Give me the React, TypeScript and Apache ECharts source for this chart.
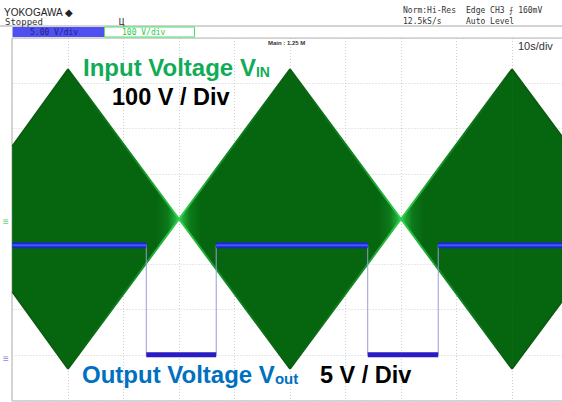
import React, { useEffect, useRef } from "react";
import * as echarts from "echarts";

const envTime = [0, 10, 30, 50, 70, 90, 99];
const envUpper = [161, 331, 0, 331, 0, 331, 182];
const envLower = [-161, -331, 0, -331, 0, -331, -182];

const outStart = [0, 36.7, 76.7, 24.1, 64];
const outEnd = [24.1, 64, 99, 36.7, 76.7];
const outLevel = [12.1, 12.1, 12.1, 0, 0];
const traceTime = [0, 24.1, 24.1, 36.7, 36.7, 64, 64, 76.7, 76.7, 99];
const traceVolt = [12.1, 12.1, 0, 0, 12.1, 12.1, 0, 0, 12.1, 12.1];

const DARK = "#066610";
const BRIGHT = "#35d455";
const FONT = "Liberation Sans, Arial, sans-serif";
const MONO = '"DejaVu Sans Mono", monospace';

function band(level: number, width: number, color: string, z: number) {
  const data: any[] = [];
  outStart.forEach((s, i) => {
    if (outLevel[i] !== level) return;
    data.push([s, level], [outEnd[i], level], [null, null]);
  });
  return {
    type: "line", yAxisIndex: 1, data, symbol: "none", connectNulls: false, z,
    lineStyle: { width, color }, silent: true,
  };
}

function small(text: string, x: number, y: number, fill = "#222", size = 8): any {
  return { type: "text", x, y, z: 20, style: { text, fill, font: `${size}px ${MONO}` } };
}

function edgeGradient() {
  const stops = envTime.map((t, i) => ({ offset: t / 99, color: envUpper[i] === 0 ? "#2fd24c" : "#0a5c10" }));
  const extra: { offset: number; color: string }[] = [];
  envTime.forEach((t, i) => {
    if (envUpper[i] === 0) {
      extra.push({ offset: (t - 8) / 99, color: "#0f8a22" }, { offset: (t + 8) / 99, color: "#0f8a22" });
    }
  });
  return new echarts.graphic.LinearGradient(0, 0, 1, 0, [...stops, ...extra].sort((a, b) => a.offset - b.offset));
}

export default function App() {
  const ref = useRef<HTMLDivElement>(null);
  useEffect(() => {
    document.body.style.margin = "0";
    const chart = echarts.init(ref.current!, null, { renderer: "svg" });
    const grid = { color: "#d0d0d0", type: [1, 2] as number[], width: 1 };
    chart.setOption({
      animation: false,
      backgroundColor: "#ffffff",
      grid: { left: 12.5, top: 38, width: 549.5, height: 362, show: false },
      xAxis: {
        type: "value", min: 0, max: 99, interval: 10,
        axisLine: { show: false }, axisTick: { show: false }, axisLabel: { show: false },
        splitLine: { show: true, lineStyle: grid },
      },
      yAxis: [
        {
          type: "value", min: -400, max: 400, interval: 100,
          axisLine: { show: false }, axisTick: { show: false }, axisLabel: { show: false },
          splitLine: { show: true, lineStyle: grid },
        },
        {
          type: "value", min: -5, max: 35, interval: 5,
          axisLine: { show: false }, axisTick: { show: false }, axisLabel: { show: false },
          splitLine: { show: false },
        },
      ],
      series: [
        {
          type: "custom", coordinateSystem: "cartesian2d", z: 3, silent: true,
          data: envTime.slice(0, -1).map((t, i) => [t, envTime[i + 1], envUpper[i], envLower[i], envUpper[i + 1], envLower[i + 1]]),
          renderItem: (_p: any, api: any) => {
            const t0 = api.value(0), t1 = api.value(1);
            const u0 = api.value(2), l0 = api.value(3), u1 = api.value(4), l1 = api.value(5);
            const pts = [api.coord([t0, u0]), api.coord([t1, u1]), api.coord([t1, l1]), api.coord([t0, l0])];
            const leftNode = u0 === 0, rightNode = u1 === 0;
            const stops = leftNode
              ? [{ offset: 0, color: BRIGHT }, { offset: 0.04, color: "#1ea83a" }, { offset: 0.1, color: "#0c7a1a" }, { offset: 0.2, color: DARK }, { offset: 1, color: DARK }]
              : rightNode
                ? [{ offset: 0, color: DARK }, { offset: 0.8, color: DARK }, { offset: 0.9, color: "#0c7a1a" }, { offset: 0.96, color: "#1ea83a" }, { offset: 1, color: BRIGHT }]
                : [{ offset: 0, color: DARK }, { offset: 1, color: DARK }];
            return {
              type: "polygon",
              shape: { points: pts },
              style: {
                fill: new echarts.graphic.LinearGradient(0, 0, 1, 0, stops),
                stroke: new echarts.graphic.LinearGradient(0, 0, 1, 0, stops),
                lineWidth: 0.8,
              },
            };
          },
        },
        {
          type: "line", data: envTime.map((t, i) => [t, envUpper[i]]), symbol: "none", z: 4, silent: true,
          lineStyle: { width: 2, color: edgeGradient() },
        },
        {
          type: "line", data: envTime.map((t, i) => [t, envLower[i]]), symbol: "none", z: 4, silent: true,
          lineStyle: { width: 2, color: edgeGradient() },
        },
        {
          type: "line", yAxisIndex: 1, data: traceTime.map((t, i) => [t, traceVolt[i]]), symbol: "none", z: 5, silent: true,
          lineStyle: { width: 1, color: "#9a9ad8" },
        },
        band(12.1, 6, "#1a2bc4", 6),
        band(12.1, 2, "#3f58ff", 7),
        band(0, 5, "#2a1cc4", 6),
      ],
      graphic: [
        { type: "line", z: 1, shape: { x1: 0, y1: 26, x2: 562, y2: 26 }, style: { stroke: "#a8a8a8", lineWidth: 1 } },
        { type: "line", z: 1, shape: { x1: 12, y1: 38, x2: 562, y2: 38 }, style: { stroke: "#b4b4b4", lineWidth: 1 } },
        { type: "line", z: 1, shape: { x1: 12, y1: 38, x2: 12, y2: 401 }, style: { stroke: "#c8c8c8", lineWidth: 1.5 } },
        { type: "line", z: 1, shape: { x1: 12, y1: 401, x2: 562, y2: 401 }, style: { stroke: "#c8c8c8", lineWidth: 1.5 } },
        { type: "rect", z: 10, shape: { x: 12.5, y: 27, width: 92, height: 10 }, style: { fill: "#5050f0" } },
        { type: "rect", z: 10, shape: { x: 104.5, y: 27, width: 90, height: 10 }, style: { fill: "#fff", stroke: "#4fe06a", lineWidth: 1 } },
        small("5.00 V/div", 30, 28, "#20208a", 8),
        small("100 V/div", 122, 28, "#22cc44", 8),
        { type: "text", x: 4, y: 7, z: 20, style: { text: "YOKOGAWA ◆", fill: "#222", font: `10px ${FONT}` } },
        small("Stopped", 5, 17, "#333", 9),
        small("Ц", 119, 17, "#333", 9),
        small("Norm:Hi-Res", 403, 6, "#333", 8),
        small("12.5kS/s", 403, 17, "#333", 8),
        small("Edge CH3 ⨍ 160mV", 466, 6, "#333", 8),
        small("Auto Level", 466, 17, "#333", 8),
        { type: "text", x: 268, y: 40, z: 20, style: { text: "Main : 1.25 M", fill: "#333", font: `bold 6px ${FONT}` } },
        { type: "text", x: 518, y: 40, z: 20, style: { text: "10s/div", fill: "#333", font: `11px ${FONT}` } },
        { type: "text", x: 3, y: 216, z: 20, style: { text: "≡", fill: "#5ecf6a", font: `10px ${FONT}` } },
        { type: "text", x: 3, y: 353, z: 20, style: { text: "≡", fill: "#8a8ae0", font: `10px ${FONT}` } },
        {
          type: "text", x: 83, y: 55, z: 30,
          style: {
            text: "{a|Input Voltage V}{b|IN}",
            rich: {
              a: { fill: "#12ab57", font: `bold 24px ${FONT}` },
              b: { fill: "#12ab57", font: `bold 14px ${FONT}`, verticalAlign: "bottom", padding: [8, 0, 0, 0] },
            },
          },
        },
        { type: "text", x: 112, y: 85, z: 30, style: { text: "100 V / Div", fill: "#000", font: `bold 23.5px ${FONT}` } },
        {
          type: "text", x: 82, y: 362, z: 30,
          style: {
            text: "{a|Output Voltage V}{b|out}",
            rich: {
              a: { fill: "#0070c0", font: `bold 24px ${FONT}` },
              b: { fill: "#0070c0", font: `bold 15px ${FONT}`, verticalAlign: "bottom", padding: [8, 0, 0, 0] },
            },
          },
        },
        { type: "text", x: 320, y: 363, z: 30, style: { text: "5 V / Div", fill: "#000", font: `bold 23.5px ${FONT}` } },
      ],
    });
    return () => chart.dispose();
  }, []);
  return <div ref={ref} style={{ width: 562, height: 402 }} />;
}
